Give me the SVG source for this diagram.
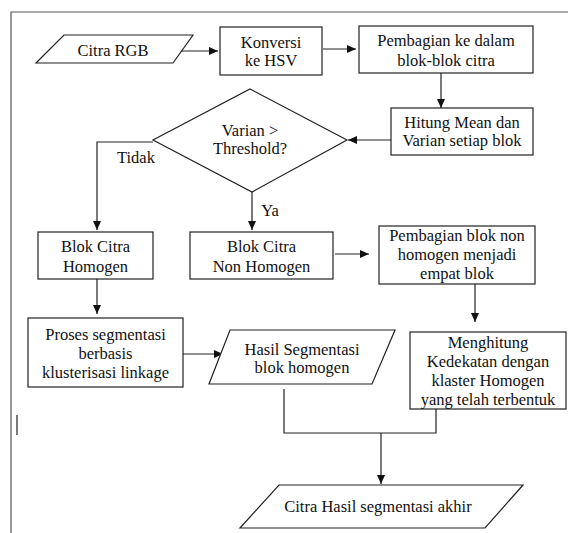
<svg xmlns="http://www.w3.org/2000/svg" width="568" height="533" viewBox="0 0 568 533" font-family="'Liberation Serif', 'Times New Roman', Times, 'DejaVu Serif', serif">
<defs>
<marker id="ah" markerWidth="10" markerHeight="8" refX="9" refY="4" orient="auto" markerUnits="userSpaceOnUse">
<path d="M0,0 L9,4 L0,8 Z" fill="#111"/>
</marker>
<style>
.s{fill:#fff;stroke:#222;stroke-width:1.2}
.c{fill:none;stroke:#222;stroke-width:1.2}
.a{fill:none;stroke:#222;stroke-width:1.2;marker-end:url(#ah)}
text{font-size:16.5px;fill:#111;text-anchor:middle}
.f{fill:none;stroke:#555;stroke-width:1.2}
</style>
</defs>
<rect width="568" height="533" fill="#fff"/>
<g id="frame">
<path class="f" d="M11,533 L11,12 L568,12"/>
<path d="M17,415 L17,435" stroke="#222" stroke-width="1.2"/>
</g>
<g id="connectors">
<path class="a" d="M173,51 L218,51"/>
<path class="a" d="M323,49 L356,49"/>
<path class="a" d="M441,73 L441,108"/>
<path class="a" d="M391,140 L348,140"/>
<path class="a" d="M153,142 L97,142 L97,230"/>
<path class="a" d="M252,192 L252,230"/>
<path class="a" d="M97,279 L97,314"/>
<path class="a" d="M335,254 L369,254"/>
<path class="a" d="M475,284 L475,322"/>
<path class="a" d="M183,354 L223,354"/>
<path class="c" d="M284,389 L284,433 L436,433 L436,409"/>
<path class="a" d="M381,433 L381,484"/>
</g>
<g id="citra-rgb">
<polygon class="s" points="64,35 193,35 173,63 36,63"/>
<text x="113" y="56">Citra RGB</text>
</g>
<g id="konversi">
<rect class="s" x="220" y="27" width="102" height="48"/>
<text x="271" y="47.5">Konversi</text>
<text x="271" y="65.5">ke HSV</text>
</g>
<g id="pembagian">
<rect class="s" x="359" y="26" width="174" height="47"/>
<text x="446" y="45.5">Pembagian ke dalam</text>
<text x="446" y="65.5">blok-blok citra</text>
</g>
<g id="hitung">
<rect class="s" x="391" y="108" width="142" height="47"/>
<text x="462" y="127.5">Hitung Mean dan</text>
<text x="462" y="145.5">Varian setiap blok</text>
</g>
<g id="decision">
<polygon class="s" points="250,89 347,140 252,192 153,140"/>
<text x="250" y="135.5">Varian &gt;</text>
<text x="250" y="153.5">Threshold?</text>
</g>
<g id="labels">
<text x="136" y="163">Tidak</text>
<text x="270" y="216">Ya</text>
</g>
<g id="blok-homogen">
<rect class="s" x="38" y="232" width="115" height="47"/>
<text x="95.5" y="251.5">Blok Citra</text>
<text x="95.5" y="271.5">Homogen</text>
</g>
<g id="blok-non-homogen">
<rect class="s" x="190" y="232" width="143" height="47"/>
<text x="261.5" y="251.5">Blok Citra</text>
<text x="261.5" y="271.5">Non Homogen</text>
</g>
<g id="pembagian-non">
<rect class="s" x="379" y="226" width="156" height="58"/>
<text x="457" y="240.5">Pembagian blok non</text>
<text x="457" y="260">homogen menjadi</text>
<text x="457" y="279">empat blok</text>
</g>
<g id="proses">
<rect class="s" x="28" y="318" width="155" height="69"/>
<text x="105.5" y="340">Proses segmentasi</text>
<text x="105.5" y="358.5">berbasis</text>
<text x="105.5" y="378">klusterisasi linkage</text>
</g>
<g id="hasil-homogen">
<polygon class="s" points="230,330 395,330 372,384 209,384"/>
<text x="302" y="355">Hasil Segmentasi</text>
<text x="302" y="372.5">blok homogen</text>
</g>
<g id="menghitung">
<rect class="s" x="410" y="332" width="156" height="77"/>
<text x="488" y="347.5">Menghitung</text>
<text x="488" y="366.5">Kedekatan dengan</text>
<text x="488" y="385.5">klaster Homogen</text>
<text x="488" y="404.5">yang telah terbentuk</text>
</g>
<g id="hasil-akhir">
<polygon class="s" points="279,485 523,485 485,528 240,528"/>
<text x="378" y="511.5">Citra Hasil segmentasi akhir</text>
</g>
</svg>
